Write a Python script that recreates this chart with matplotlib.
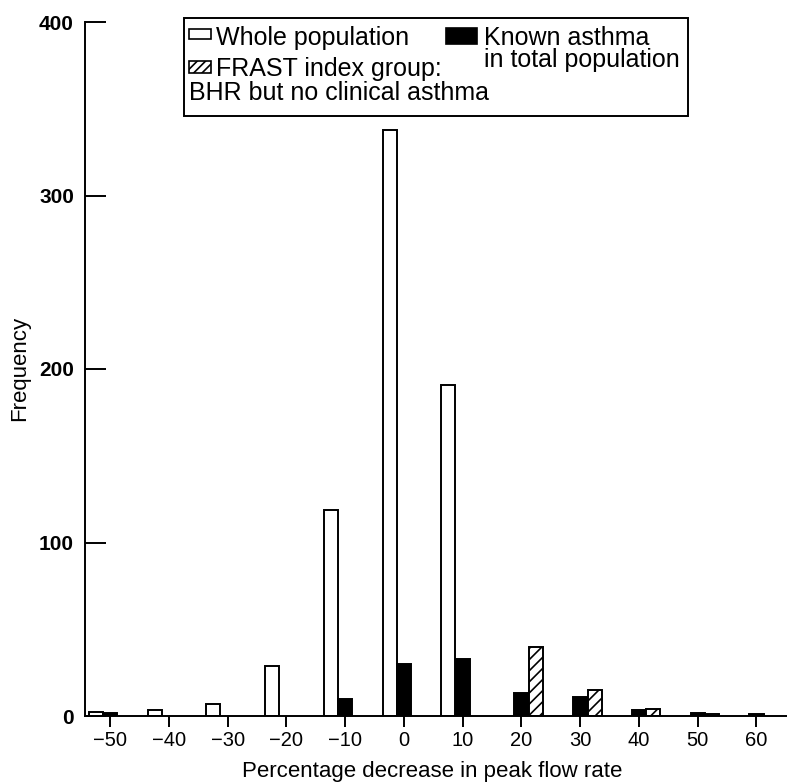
import matplotlib
matplotlib.use("Agg")
import matplotlib.pyplot as plt
from matplotlib.patches import Rectangle
import numpy as np

# percentage decrease in peak flow rate (bin centres)
bins = [-50, -40, -30, -20, -10, 0, 10, 20, 30, 40, 50, 60]
whole_population = [2.5, 3.5, 7, 29, 119, 338, 191, 0, 0, 0, 0, 0]
known_asthma = [1.5, 0, 0, 0, 10, 30, 33, 13.5, 11, 3.3, 2, 1]
frast_group = [0, 0, 0, 0, 0, 0, 0, 40, 15, 4, 1, 0]

W, H = 787, 783
plt.rcParams['font.family'] = ['Liberation Sans', 'DejaVu Sans']
plt.rcParams['hatch.linewidth'] = 1.2

fig = plt.figure(figsize=(W / 100, H / 100), dpi=100)

def px(x, y):
    # pixel position -> figure fraction
    return x / W, 1 - y / H

ax = fig.add_axes([85 / W, (H - 716) / H, (W - 85) / W, (716 - 22) / H])

x = np.array(bins, dtype=float)
width = 2.4
off = 2.45

def draw(values, shift, **kw):
    vals = np.array(values, dtype=float)
    keep = vals > 0
    ax.bar(x[keep] + shift, vals[keep], width, edgecolor='black', linewidth=1.4, **kw)

draw(whole_population, -off, color='white')
draw(known_asthma, 0, color='black')
draw(frast_group, off, color='white', hatch='///')

ax.set_xlim(-54.3, 65.2)
ax.set_ylim(0, 400)
ax.set_xticks(bins)
ax.set_yticks([0, 100, 200, 300, 400])
ax.spines['top'].set_visible(False)
ax.spines['right'].set_visible(False)
ax.spines['left'].set_linewidth(1.4)
ax.spines['bottom'].set_linewidth(1.4)
ax.tick_params(axis='y', direction='in', length=15, width=1.4, pad=8, labelsize=15)
ax.tick_params(axis='x', direction='out', length=8, width=1.4, pad=3, labelsize=14.5)
for lab in ax.get_yticklabels():
    lab.set_fontweight('bold')

fig.text(*px(432, 771), 'Percentage decrease in peak flow rate', fontsize=16,
         ha='center', va='center')
fig.text(*px(20, 368), 'Frequency', fontsize=16, rotation=90, ha='center', va='center')

# legend, drawn by hand
fs = 18
frame = Rectangle(px(184, 116), (680 - 184) / W, (116 - 18) / H,
                  transform=fig.transFigure, facecolor='white',
                  edgecolor='black', linewidth=1.4, zorder=5)
fig.patches.append(frame)

def handle(x0, y0, w, h, **kw):
    fig.patches.append(Rectangle(px(x0, y0 + h), w / W, h / H, transform=fig.transFigure,
                                 edgecolor='black', linewidth=1.2, zorder=6, **kw))

handle(189, 29, 22, 10, facecolor='white')
handle(446, 28, 31, 16, facecolor='black')
handle(189, 61, 22, 12, facecolor='white', hatch='////')

texts = [
    fig.text(*px(216, 45), 'Whole population', fontsize=fs, va='baseline', zorder=7),
    fig.text(*px(484, 45), 'Known asthma', fontsize=fs, va='baseline', zorder=7),
    fig.text(*px(484, 67), 'in total population', fontsize=fs, va='baseline', zorder=7),
    fig.text(*px(216, 76), 'FRAST index group:', fontsize=fs, va='baseline', zorder=7),
    fig.text(*px(189, 100), 'BHR but no clinical asthma', fontsize=fs, va='baseline', zorder=7),
]

# widen the frame so the longest label fits
fig.canvas.draw()
right = max(t.get_window_extent().x1 for t in texts) + 8
frame.set_width(right / W - frame.get_x())

fig.savefig('out.png', dpi=100)
